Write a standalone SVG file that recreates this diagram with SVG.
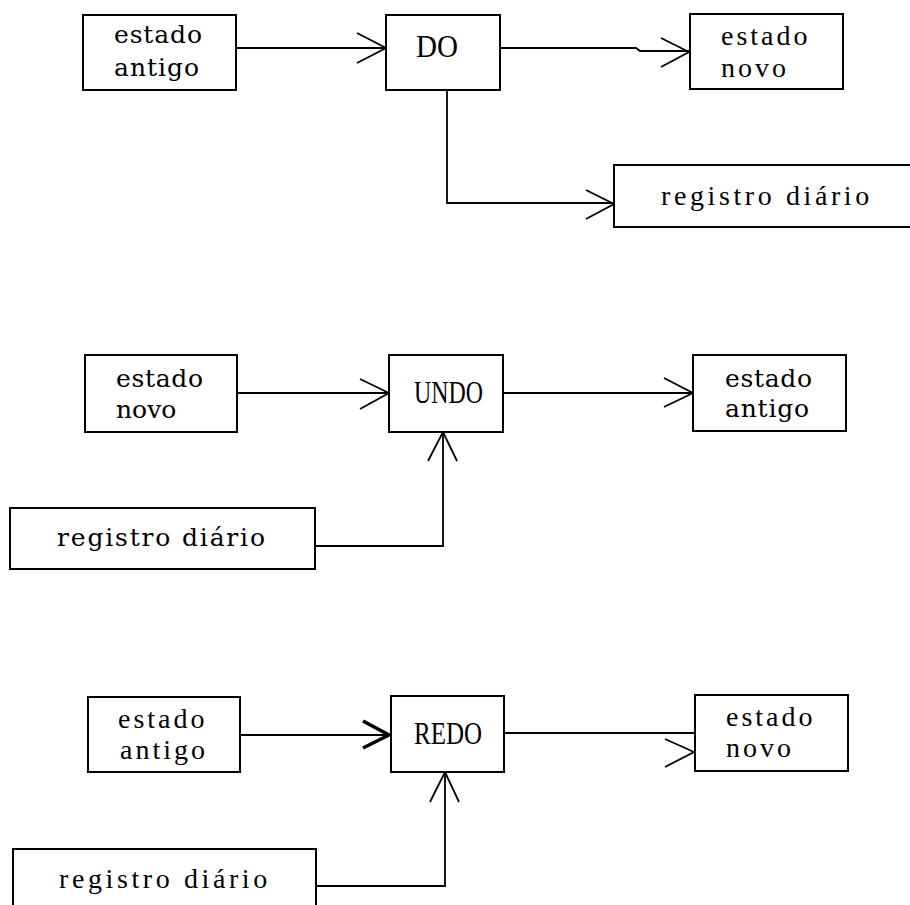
<svg xmlns="http://www.w3.org/2000/svg" width="910" height="905" viewBox="0 0 910 905">
<style>
.box{fill:#fff;stroke:#000;stroke-width:2}
.ln{fill:none;stroke:#000;stroke-width:1.8}
.ah{fill:none;stroke:#000;stroke-width:1.8}
.tw{font-family:"DejaVu Serif","Liberation Serif",serif;fill:#000;font-size:25px}
.cap{font-family:"Liberation Serif","DejaVu Serif",serif;fill:#000;font-size:31px}
.ser{font-family:"Liberation Serif","DejaVu Serif",serif;fill:#000;font-size:28px;letter-spacing:3px}
.reg{font-family:"Liberation Serif","DejaVu Serif",serif;fill:#000;font-size:28px;letter-spacing:3.6px}
</style>
<rect width="910" height="905" fill="#fff"/>
<g id="connectors">
  <path class="ln" d="M236,48 H386"/>
  <polyline class="ah" points="357,33 386,48 357,63"/>
  <path class="ln" d="M500,48 H636 L640,51 H689"/>
  <polyline class="ah" points="661,38 689,52 661,67"/>
  <path class="ln" d="M447,90 V203 H614"/>
  <polyline class="ah" points="586,190 614,204 586,219"/>

  <path class="ln" d="M237,393 H389"/>
  <polyline class="ah" points="360,379 389,393 360,409"/>
  <path class="ln" d="M503,393 H693"/>
  <polyline class="ah" points="664,378 693,393 664,407"/>
  <path class="ln" d="M315,546 H443 V432"/>
  <polyline class="ah" points="428,461 443,432 457,461"/>

  <path class="ln" d="M240,735 H391"/>
  <polyline class="ah" style="stroke-width:3.5" points="363,721 389,735 363,748"/>
  <path class="ln" d="M504,733 H695"/>
  <polyline class="ah" points="665,739 694,752 665,767"/>
  <path class="ln" d="M316,886 H445 V772"/>
  <polyline class="ah" points="430,802 445,772 459,802"/>
</g>

<g id="s1-estado-antigo">
  <rect class="box" x="83" y="15" width="153" height="75"/>
  <text class="tw" x="114" y="43" textLength="88" lengthAdjust="spacing">estado</text>
  <text class="tw" x="114" y="76" textLength="85" lengthAdjust="spacing">antigo</text>
</g>
<g id="s1-do">
  <rect class="box" x="386" y="15" width="114" height="75"/>
  <text class="cap" x="416" y="57" textLength="42" lengthAdjust="spacingAndGlyphs">DO</text>
</g>
<g id="s1-estado-novo">
  <rect class="box" x="690" y="14" width="153" height="75"/>
  <text class="ser" x="721" y="45">estado</text>
  <text class="ser" x="721" y="77">novo</text>
</g>
<g id="s1-registro">
  <path class="box" d="M912,165 H614 V227 H912"/>
  <text class="reg" x="661" y="205">registro diário</text>
</g>

<g id="s2-estado-novo">
  <rect class="box" x="85" y="355" width="152" height="77"/>
  <text class="tw" x="116" y="387" textLength="87" lengthAdjust="spacing">estado</text>
  <text class="tw" x="116" y="418">novo</text>
</g>
<g id="s2-undo">
  <rect class="box" x="389" y="355" width="114" height="77"/>
  <text class="cap" x="414" y="403" textLength="69" lengthAdjust="spacingAndGlyphs">UNDO</text>
</g>
<g id="s2-estado-antigo">
  <rect class="box" x="693" y="355" width="153" height="76"/>
  <text class="tw" x="725" y="387" textLength="87" lengthAdjust="spacing">estado</text>
  <text class="tw" x="725" y="417" textLength="84" lengthAdjust="spacing">antigo</text>
</g>
<g id="s2-registro">
  <rect class="box" x="10" y="508" width="305" height="61"/>
  <text class="tw" x="57" y="546" textLength="208" lengthAdjust="spacing">registro diário</text>
</g>

<g id="s3-estado-antigo">
  <rect class="box" x="88" y="697" width="152" height="75"/>
  <text class="ser" x="118" y="728">estado</text>
  <text class="ser" x="120" y="759">antigo</text>
</g>
<g id="s3-redo">
  <rect class="box" x="391" y="696" width="113" height="76"/>
  <text class="cap" x="414" y="744" textLength="68" lengthAdjust="spacingAndGlyphs">REDO</text>
</g>
<g id="s3-estado-novo">
  <rect class="box" x="695" y="695" width="153" height="76"/>
  <text class="ser" x="726" y="726">estado</text>
  <text class="ser" x="726" y="757">novo</text>
</g>
<g id="s3-registro">
  <path class="box" d="M13,907 V849 H316 V907"/>
  <text class="reg" x="59" y="888">registro diário</text>
</g>
</svg>
